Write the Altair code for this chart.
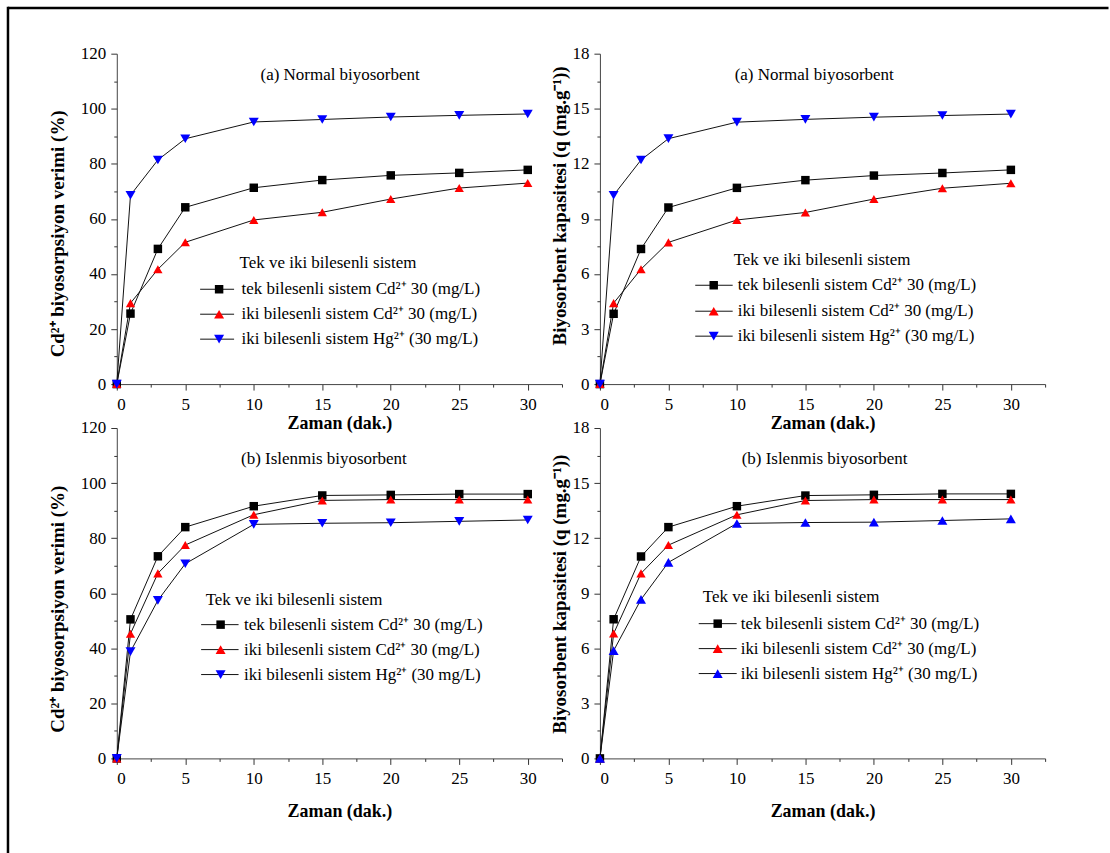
import altair as alt
import pandas as pd

# ---------------- data ----------------
time_min = [0, 1, 3, 5, 10, 15, 20, 25, 30]

series_names = [
    "tek bilesenli sistem Cd²⁺ 30 (mg/L)",
    "iki bilesenli sistem Cd²⁺ 30 (mg/L)",
    "iki bilesenli sistem Hg²⁺ (30 mg/L)",
]
series_colors = ["#000000", "#ff0000", "#0000ff"]

# (a) Normal biyosorbent - efficiency (%)
a_pct_tek_cd = [0, 25.6, 49.1, 64.2, 71.3, 74.1, 75.8, 76.7, 77.8]
a_pct_iki_cd = [0, 29.4, 41.7, 51.5, 59.6, 62.4, 67.2, 71.2, 73.0]
a_pct_iki_hg = [0, 68.6, 81.4, 89.1, 95.2, 96.1, 97.0, 97.6, 98.1]

# (a) Normal biyosorbent - capacity q (mg/g)
a_q_tek_cd = [0, 3.83, 7.36, 9.62, 10.69, 11.11, 11.36, 11.50, 11.67]
a_q_iki_cd = [0, 4.41, 6.26, 7.72, 8.94, 9.35, 10.08, 10.67, 10.94]
a_q_iki_hg = [0, 10.29, 12.21, 13.37, 14.27, 14.42, 14.54, 14.63, 14.71]

# (b) Islenmis biyosorbent - efficiency (%)
b_pct_tek_cd = [0, 50.5, 73.4, 84.0, 91.6, 95.5, 95.7, 96.0, 96.0]
b_pct_iki_cd = [0, 45.3, 67.2, 77.5, 88.5, 93.7, 94.0, 94.0, 94.0]
b_pct_iki_hg = [0, 38.8, 57.4, 70.7, 85.0, 85.4, 85.6, 86.1, 86.6]

# (b) Islenmis biyosorbent - capacity q (mg/g)
b_q_tek_cd = [0, 7.58, 11.0, 12.6, 13.74, 14.32, 14.36, 14.41, 14.41]
b_q_iki_cd = [0, 6.8, 10.08, 11.62, 13.27, 14.05, 14.10, 14.10, 14.10]
b_q_iki_hg = [0, 5.87, 8.66, 10.68, 12.80, 12.85, 12.87, 12.96, 13.05]

x_major = [0, 5, 10, 15, 20, 25, 30]
x_minor = [2.5, 7.5, 12.5, 17.5, 22.5, 27.5, 32.5]
pct_major = [0, 20, 40, 60, 80, 100, 120]
pct_minor = [10, 30, 50, 70, 90, 110]
q_major = [0, 3, 6, 9, 12, 15, 18]
q_minor = [1.5, 4.5, 7.5, 10.5, 13.5, 16.5]

SERIF = "Liberation Serif, Times New Roman, serif"
W, H = 446, 331
one = pd.DataFrame({"a": [0]})


def marker_size(shape):
    return 72 if shape == "square" else 100


def text_layer(txt, x, y, size=17, weight="normal", align="left"):
    return alt.Chart(one).mark_text(
        text=txt, font=SERIF, fontSize=size, fontWeight=weight,
        align=align, baseline="middle", color="black"
    ).encode(x=alt.value(x), y=alt.value(y))


def panel(vals, ymax, ymaj, ymin, ytitle, ytx, yty, xty, subtitle, sub_xy,
          shapes, leg, frame=False):
    rows = []
    for name, v in zip(series_names, vals):
        for t, val in zip(time_min, v):
            rows.append({"time": t, "value": val, "series": name})
    df = pd.DataFrame(rows)
    base = alt.Chart(df)
    xs = alt.Scale(domain=[0, 32.5], nice=False, zero=False)
    ys = alt.Scale(domain=[0, ymax], nice=False, zero=False)

    lines = base.mark_line(color="#111111", strokeWidth=1).encode(
        x=alt.X("time:Q", scale=xs, axis=alt.Axis(
            values=x_major, title="Zaman (dak.)", orient="bottom", tickSize=6,
            labelPadding=6, titleY=xty, titleBaseline="middle")),
        y=alt.Y("value:Q", scale=ys, axis=alt.Axis(
            values=ymaj, title=ytitle, orient="left", tickSize=6,
            labelPadding=5, titleX=ytx, titleY=yty, titleBaseline="middle",
            titleFontSize=19)),
        detail="series:N",
    )
    pts = base.mark_point(filled=True, opacity=1).encode(
        x=alt.X("time:Q", scale=xs, axis=alt.Axis(
            values=x_minor, labels=False, title=None, orient="bottom",
            tickSize=3, domain=False)),
        y=alt.Y("value:Q", scale=ys, axis=alt.Axis(
            values=ymin, labels=False, title=None, orient="left",
            tickSize=3, domain=False)),
        color=alt.Color("series:N", scale=alt.Scale(domain=series_names, range=series_colors), legend=None),
        shape=alt.Shape("series:N", scale=alt.Scale(domain=series_names, range=shapes), legend=None),
        size=alt.Size("series:N", scale=alt.Scale(domain=series_names,
                                                  range=[marker_size(s) for s in shapes]), legend=None),
    )

    layers = [lines, pts]
    layers.append(text_layer(subtitle, sub_xy[0], sub_xy[1]))
    # legend
    (tx, ty), (l1, l2, mx, lx), rys = leg
    layers.append(text_layer("Tek ve iki bilesenli sistem", tx, ty))
    for name, col, shp, ry in zip(series_names, series_colors, shapes, rys):
        layers.append(alt.Chart(one).mark_rule(color="#111111", strokeWidth=1).encode(
            x=alt.value(l1), x2=alt.value(l2), y=alt.value(ry)))
        layers.append(alt.Chart(one).mark_point(filled=True, size=marker_size(shp), opacity=1,
                                                color=col, shape=shp).encode(
            x=alt.value(mx), y=alt.value(ry)))
        layers.append(text_layer(name, lx, ry))
    if frame:
        layers.append(alt.Chart(one).mark_rule(color="black", strokeWidth=2.5).encode(
            x=alt.value(-109), x2=alt.value(993.5), y=alt.value(-45.7)))
        layers.append(alt.Chart(one).mark_rule(color="black", strokeWidth=2.5).encode(
            x=alt.value(-109), y=alt.value(-46.9), y2=alt.value(802)))
    return alt.layer(*layers).resolve_scale(
        x="independent", y="independent", color="independent",
        shape="independent", size="independent"
    ).properties(width=W, height=H)


tl = panel([a_pct_tek_cd, a_pct_iki_cd, a_pct_iki_hg], 120, pct_major, pct_minor,
           "Cd²⁺ biyosorpsiyon verimi (%)", -59, 180, 40,
           "(a) Normal biyosorbent", (144, 21),
           ["square", "triangle-up", "triangle-down"],
           ((123, 210), (83.5, 117.5, 102.5, 125), [236, 261, 286]), frame=True)
tr = panel([a_q_tek_cd, a_q_iki_cd, a_q_iki_hg], 18, q_major, q_minor,
           "Biyosorbent kapasitesi (q (mg.g⁻¹))", -40, 152, 40,
           "(a) Normal biyosorbent", (135, 21),
           ["square", "triangle-up", "triangle-down"],
           ((134, 207), (95.5, 133, 114, 138), [232, 258, 283]))
bl = panel([b_pct_tek_cd, b_pct_iki_cd, b_pct_iki_hg], 120, pct_major, pct_minor,
           "Cd²⁺ biyosorpsiyon verimi (%)", -59, 181, 53,
           "(b) Islenmis biyosorbent", (124.5, 31),
           ["square", "triangle-up", "triangle-down"],
           ((89, 172), (84.5, 122, 104, 127.5), [197, 222, 247]))
br = panel([b_q_tek_cd, b_q_iki_cd, b_q_iki_hg], 18, q_major, q_minor,
           "Biyosorbent kapasitesi (q (mg.g⁻¹))", -40, 166, 53,
           "(b) Islenmis biyosorbent", (142, 31),
           ["square", "triangle-up", "triangle-up"],
           ((103, 169), (99, 137, 118, 141), [196, 221, 246]))

chart = alt.concat(
    tl, tr, bl, br, columns=2, spacing={"row": 44, "column": 38}, bounds="flush"
).properties(
    padding={"left": 6, "top": 4, "right": 0, "bottom": 0},
    background="white",
).configure_view(stroke=None).configure_axis(
    grid=False,
    labelFont=SERIF, labelFontSize=17, labelColor="black",
    titleFont=SERIF, titleFontSize=18, titleFontWeight="bold", titleColor="black",
    domainColor="#444444", tickColor="#333333", domainWidth=1, tickWidth=1,
)

chart.save("out.html", embed_options={"renderer": "svg", "actions": False})
